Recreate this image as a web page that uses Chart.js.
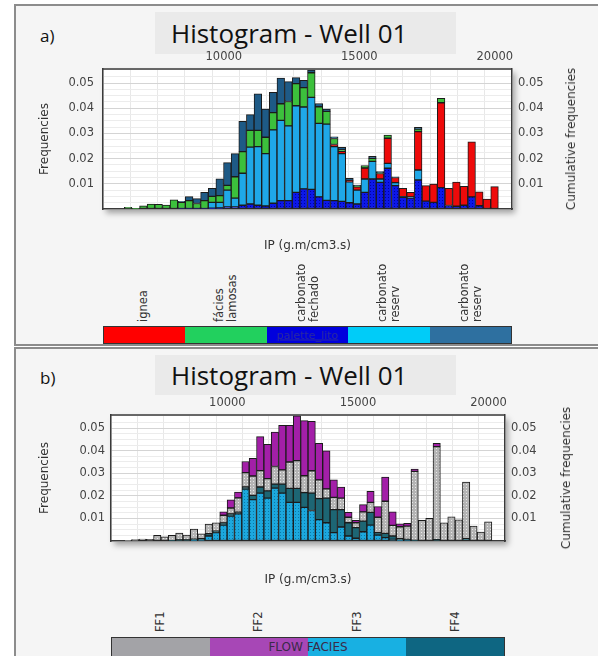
<!DOCTYPE html>
<html>
<head>
<meta charset="utf-8">
<script src="https://cdn.jsdelivr.net/npm/chart.js@4.4.0/dist/chart.umd.min.js"></script>
<style>
  body { margin: 0; width: 598px; height: 656px; position: relative; overflow: hidden; background: #fff; font-family: "DejaVu Sans", sans-serif; }
  .panel { position: absolute; left: 14px; width: 600px; background: #f5f5f5; border: 2px solid #8c8c8c; box-sizing: border-box; }
  .tbox { position: absolute; background: #eaeaea; font-family: "Open Sans", sans-serif; font-size: 26px; color: #111; text-align: left; padding-left: 16px; box-sizing: border-box; }
  .tag { position: absolute; font-family: "Open Sans", sans-serif; font-size: 17px; color: #111; }
  canvas { position: absolute; left: 0; }
  .rt { position: absolute; font-size: 12px; color: #333; white-space: nowrap; transform: translate(-50%, -50%) rotate(-90deg); }
  .bar { position: absolute; display: flex; border: 1px solid #333; box-sizing: border-box; }
  .bar div { flex: 1; }
  .lab { position: absolute; font-size: 11.5px; line-height: 13px; color: #333; white-space: pre; transform: rotate(-90deg); transform-origin: 0 0; }
  .btxt { position: absolute; font-size: 12px; color: #333; transform: translate(-50%, -50%); white-space: nowrap; }
</style>
</head>
<body>
<div class="panel" style="top:4px;height:342px"></div>
<div class="panel" style="top:347px;height:330px"></div>

<div class="tag" style="left:40px;top:24px">a)</div>
<div class="tbox" style="left:155px;top:12px;width:301px;height:42px;line-height:42px">Histogram - Well 01</div>
<canvas id="chartA" width="598" height="225" style="top:40px"></canvas>
<div class="rt" style="left:571px;top:139px">Cumulative frequencies</div>
<div id="legA"></div>

<div class="tag" style="left:40px;top:366px">b)</div>
<div class="tbox" style="left:155px;top:355px;width:301px;height:40px;line-height:40px">Histogram - Well 01</div>
<canvas id="chartB" width="598" height="210" style="top:387px"></canvas>
<div class="rt" style="left:566px;top:478px">Cumulative frequencies</div>
<div id="legB"></div>

<script>
// bin centres of IP (g.m/cm3.s), 50 bins
const bins = [6186, 6468, 6749, 7031, 7313, 7595, 7876, 8158, 8440, 8721,
  9003, 9285, 9566, 9848, 10130, 10412, 10693, 10975, 11257, 11538,
  11820, 12102, 12383, 12665, 12947, 13229, 13510, 13792, 14074, 14355,
  14637, 14919, 15200, 15482, 15764, 16046, 16327, 16609, 16891, 17172,
  17454, 17736, 18017, 18299, 18581, 18863, 19144, 19426, 19708, 19989];
const xTickLabels = [10000, 15000, 20000];
const yTickLabels = [0.01, 0.02, 0.03, 0.04, 0.05];

// a) lithology
const carbFechado = [0, 0, 0, 0, 0, 0, 0, 0, 0.0002, 0.0002,
  0.0002, 0.0002, 0.0003, 0.0004, 0.0008, 0.0008, 0.0015, 0.002, 0.0015, 0.0012,
  0.0023, 0.0033, 0.0033, 0.0066, 0.008, 0.0078, 0.0048, 0.0034, 0.0033, 0.003,
  0.0025, 0.002, 0.0066, 0.0119, 0.0106, 0.0162, 0.0093, 0.0046, 0.0043, 0.0115,
  0.0031, 0.0026, 0.0085, 0.0014, 0.0011, 0.0015, 0.0048, 0.0013, 0, 0];
const carbReserv = [0, 0, 0, 0, 0, 0, 0, 0, 0, 0,
  0, 0, 0.0023, 0.0022, 0.0067, 0.0035, 0.0127, 0.0226, 0.0233, 0.0208,
  0.0291, 0.0319, 0.0297, 0.0344, 0.0325, 0.0365, 0.0292, 0.0303, 0.0215, 0.019,
  0.0083, 0.0055, 0.0053, 0.007, 0.0013, 0.0019, 0.0012, 0.0003, 0.0005, 0.004,
  0, 0, 0, 0, 0, 0, 0, 0, 0, 0];
const ignea = [0, 0, 0, 0, 0, 0, 0, 0, 0, 0,
  0, 0, 0, 0, 0, 0, 0, 0, 0, 0,
  0, 0, 0, 0, 0, 0, 0, 0, 0.0008, 0.0009,
  0.0005, 0.0013, 0.0044, 0, 0.0022, 0.01, 0.002, 0.0033, 0.0018, 0.0152,
  0.0062, 0.0073, 0.0337, 0.0068, 0.0096, 0.0075, 0.0219, 0.0055, 0.0039, 0.0089];
const faciesLamosas = [0, 0.0007, 0.0003, 0.0013, 0.002, 0.0019, 0.0016, 0.0036, 0.0024, 0.0031,
  0.002, 0.0031, 0.0024, 0.0027, 0.0019, 0.0085, 0.0086, 0.0066, 0.0064, 0.0065,
  0.0069, 0.0066, 0.0097, 0.0088, 0.0077, 0.0098, 0.0066, 0.0051, 0.0024, 0.0006,
  0, 0.0004, 0.0009, 0.0012, 0.0003, 0.0013, 0, 0, 0, 0.001,
  0, 0, 0.0018, 0, 0, 0, 0, 0, 0, 0];
const carbReserv2 = [0, 0, 0, 0, 0, 0, 0, 0, 0.0004, 0.0016,
  0.0019, 0.0033, 0.0032, 0.0067, 0.009, 0.0092, 0.012, 0.0063, 0.0145, 0.0112,
  0.008, 0.0102, 0.0079, 0.0024, 0.0029, 0.0011, 0.0013, 0.0009, 0.0007, 0.001,
  0.0009, 0.0003, 0, 0.0008, 0.0005, 0, 0.0003, 0, 0, 0.0007,
  0, 0, 0, 0, 0, 0, 0, 0, 0, 0];

// b) flow facies
const ff3 = [0, 0, 0, 0, 0, 0, 0, 0, 0, 0.0003,
  0.0005, 0.0022, 0.0037, 0.007, 0.011, 0.012, 0.023, 0.0183, 0.0212, 0.019,
  0.0234, 0.0212, 0.0171, 0.0171, 0.0149, 0.0135, 0.0095, 0.0081, 0.0037, 0.0062,
  0.0022, 0.0012, 0.0041, 0.007, 0.0026, 0.0015, 0.0007, 0.0003, 0.0002, 0,
  0, 0, 0, 0, 0, 0, 0, 0, 0, 0];
const ff4 = [0, 0, 0, 0, 0, 0, 0.0001, 0.0005, 0.0005, 0.0005,
  0.0005, 0.001, 0.0007, 0.001, 0.001, 0.0008, 0.0009, 0.0019, 0.0027, 0.0032,
  0.0018, 0.004, 0.0062, 0.0062, 0.0065, 0.0077, 0.0093, 0.0109, 0.0102, 0.0077,
  0.0059, 0.0047, 0.0047, 0.0057, 0.0011, 0.0019, 0.0015, 0.0007, 0.0005, 0.0003,
  0, 0, 0.0006, 0, 0, 0, 0.001, 0, 0, 0];
const ff1 = [0.0003, 0.0006, 0.0009, 0.0007, 0.0025, 0.0018, 0.0024, 0.003, 0.0021, 0.0045,
  0.0022, 0.0043, 0.0037, 0.0034, 0.0026, 0.0063, 0.0064, 0.0086, 0.0073, 0.0054,
  0.0078, 0.0063, 0.0117, 0.0123, 0.0075, 0.0099, 0.0083, 0.0041, 0.0054, 0.0051,
  0.0024, 0.0022, 0.0041, 0.0044, 0.0068, 0.0142, 0.0047, 0.0053, 0.0059, 0.0305,
  0.0092, 0.01, 0.0412, 0.0081, 0.0107, 0.0094, 0.0251, 0.0066, 0.004, 0.0085];
const ff2 = [0, 0, 0, 0, 0, 0, 0, 0, 0, 0,
  0, 0, 0, 0.0015, 0.0036, 0.0026, 0.0049, 0.0078, 0.015, 0.0152,
  0.0152, 0.0197, 0.0162, 0.0198, 0.0244, 0.0219, 0.0161, 0.0168, 0.0078, 0.0049,
  0.0022, 0.0011, 0.0032, 0.0049, 0.0047, 0.0107, 0.006, 0.0013, 0.0012, 0.0011,
  0, 0, 0.0014, 0, 0, 0, 0, 0, 0, 0];

const legendA = [
  {text: 'ignea', color: '#ff0000'},
  {text: 'fácies\nlamosas', color: '#22d05e'},
  {text: 'carbonato\nfechado', color: '#0000dd'},
  {text: 'carbonato\nreserv', color: '#00ccf8'},
  {text: 'carbonato\nreserv', color: '#2e70a0'}
];
const legendB = [
  {text: 'FF1', color: '#a3a3a7'},
  {text: 'FF2', color: '#a747b6'},
  {text: 'FF3', color: '#18b0e2'},
  {text: 'FF4', color: '#0e6682'}
];

function dots(base, dot) {
  const c = document.createElement('canvas');
  c.width = 3; c.height = 3;
  const g = c.getContext('2d');
  g.fillStyle = base; g.fillRect(0, 0, 3, 3);
  g.fillStyle = dot; g.fillRect(1, 1, 1, 1);
  return g.createPattern(c, 'repeat');
}

// white plot area with a soft shadow
const plotBg = {
  id: 'plotBg',
  beforeDraw(chart) {
    const {ctx, chartArea: a} = chart;
    ctx.save();
    ctx.shadowColor = 'rgba(0,0,0,0.35)';
    ctx.shadowBlur = 6;
    ctx.shadowOffsetX = 3;
    ctx.shadowOffsetY = 4;
    ctx.fillStyle = '#fff';
    ctx.fillRect(a.left, a.top, a.right - a.left, a.bottom - a.top);
    ctx.restore();
  }
};

// repeat the x tick labels above the plot, placed with the x scale
const topAxis = {
  id: 'topAxis',
  afterDraw(chart) {
    const {ctx, chartArea: a, scales: {x}} = chart;
    ctx.save();
    ctx.strokeStyle = '#3a3a3a';
    ctx.lineWidth = 1.5;
    ctx.beginPath();
    ctx.moveTo(a.left, a.top);
    ctx.lineTo(a.right, a.top);
    ctx.stroke();
    ctx.font = '11.5px "DejaVu Sans"';
    ctx.fillStyle = '#444';
    ctx.textAlign = 'center';
    ctx.textBaseline = 'middle';
    xTickLabels.forEach(v => ctx.fillText(String(v), x.getPixelForValue(v), a.top - 12));
    ctx.restore();
  }
};

function histogram(id, sets, g) {
  const tickFont = {family: 'DejaVu Sans', size: 11.5};
  const isY = v => yTickLabels.some(t => Math.abs(t - v) < 1e-7);
  const yLabel = v => isY(v) ? v.toFixed(2) : '';
  const xLabel = v => xTickLabels.includes(v) ? String(v) : '';
  const border = () => ({display: true, color: '#3a3a3a', width: 1.5});
  return new Chart(document.getElementById(id), {
    type: 'bar',
    data: {
      labels: bins,
      datasets: sets.map(s => ({
        data: s.data, backgroundColor: s.color, borderColor: '#1b1b1b', borderWidth: 1,
        borderSkipped: false, barPercentage: 1, categoryPercentage: 1
      }))
    },
    options: {
      responsive: false,
      animation: false,
      layout: {padding: {top: g.top}},
      plugins: {legend: {display: false}, tooltip: {enabled: false}},
      scales: {
        x: {
          type: 'linear', position: 'bottom', stacked: true, min: 6045, max: 20130,
          afterFit: s => { s.height = g.bottom; },
          border: border(),
          grid: {drawTicks: false, color: c => (c.tick && xTickLabels.includes(c.tick.value)) ? '#cdcdcd' : '#e8e8e8'},
          ticks: {stepSize: 1000, includeBounds: false, autoSkip: false, maxRotation: 0, padding: 5, font: tickFont, color: '#444', callback: xLabel},
          title: {display: true, text: 'IP (g.m/cm3.s)', color: '#333', font: {family: 'DejaVu Sans', size: 12}, padding: {bottom: g.titlePad}}
        },
        y: {
          stacked: true, min: 0, max: g.yMax,
          afterFit: s => { s.width = g.left; },
          border: border(),
          grid: {drawTicks: false, color: c => (c.tick && isY(c.tick.value)) ? '#d4d4d4' : '#ececec'},
          ticks: {stepSize: 0.0025, autoSkip: false, padding: g.lpad, font: tickFont, color: '#444', callback: yLabel},
          title: {display: true, text: 'Frequencies', color: '#333', font: {family: 'DejaVu Sans', size: 12}, padding: {top: 38}}
        },
        yr: {
          position: 'right', min: 0, max: g.yMax,
          afterFit: s => { s.width = g.right; },
          border: border(),
          grid: {display: false, drawTicks: false},
          ticks: {stepSize: 0.0025, autoSkip: false, padding: 6, font: tickFont, color: '#444', callback: yLabel}
        }
      }
    },
    plugins: [plotBg, topAxis]
  });
}

function legend(el, items, x, w, barTop, barH, labelBottom, inner) {
  const box = document.getElementById(el);
  const bar = document.createElement('div');
  bar.className = 'bar';
  Object.assign(bar.style, {left: x + 'px', top: barTop + 'px', width: w + 'px', height: barH + 'px'});
  const seg = w / items.length;
  items.forEach((it, i) => {
    const d = document.createElement('div');
    d.style.background = it.color;
    bar.appendChild(d);
    const lines = it.text.split('\n').length;
    const l = document.createElement('div');
    l.className = 'lab';
    l.textContent = it.text;
    l.style.left = (x + seg * (i + 0.5) - lines * 13 / 2) + 'px';
    l.style.top = labelBottom + 'px';
    box.appendChild(l);
  });
  box.appendChild(bar);
  const t = document.createElement('div');
  t.className = 'btxt';
  t.textContent = inner.text;
  Object.assign(t.style, {left: (x + w / 2) + 'px', top: (barTop + barH / 2) + 'px', color: inner.color, fontSize: inner.size + 'px', textDecoration: inner.deco || 'none'});
  box.appendChild(t);
}

legend('legA', legendA, 103, 409, 326, 18, 322, {text: 'palette_lito', color: '#2a2aa0', size: 11, deco: 'underline'});
legend('legB', legendB, 111, 394, 637, 20, 632, {text: 'FLOW FACIES', color: '#3a2a48', size: 12});

histogram('chartA', [
  {data: carbFechado, color: dots('#0c18e8', '#0000a0')},
  {data: carbReserv, color: '#1fa8e8'},
  {data: ignea, color: '#ee0a0a'},
  {data: faciesLamosas, color: '#3cc03c'},
  {data: carbReserv2, color: '#1e5a86'}
], {left: 103, right: 86, top: 29, bottom: 56, titlePad: 12, lpad: 9, yMax: 0.0556});

histogram('chartB', [
  {data: ff3, color: dots('#1ca8de', '#0b78a6')},
  {data: ff4, color: '#1d6674'},
  {data: ff1, color: dots('#b4b4b4', '#e8e8e8')},
  {data: ff2, color: '#a31fa8'}
], {left: 111, right: 93, top: 28, bottom: 56, titlePad: 10, lpad: 6, yMax: 0.0558});
</script>
</body>
</html>
